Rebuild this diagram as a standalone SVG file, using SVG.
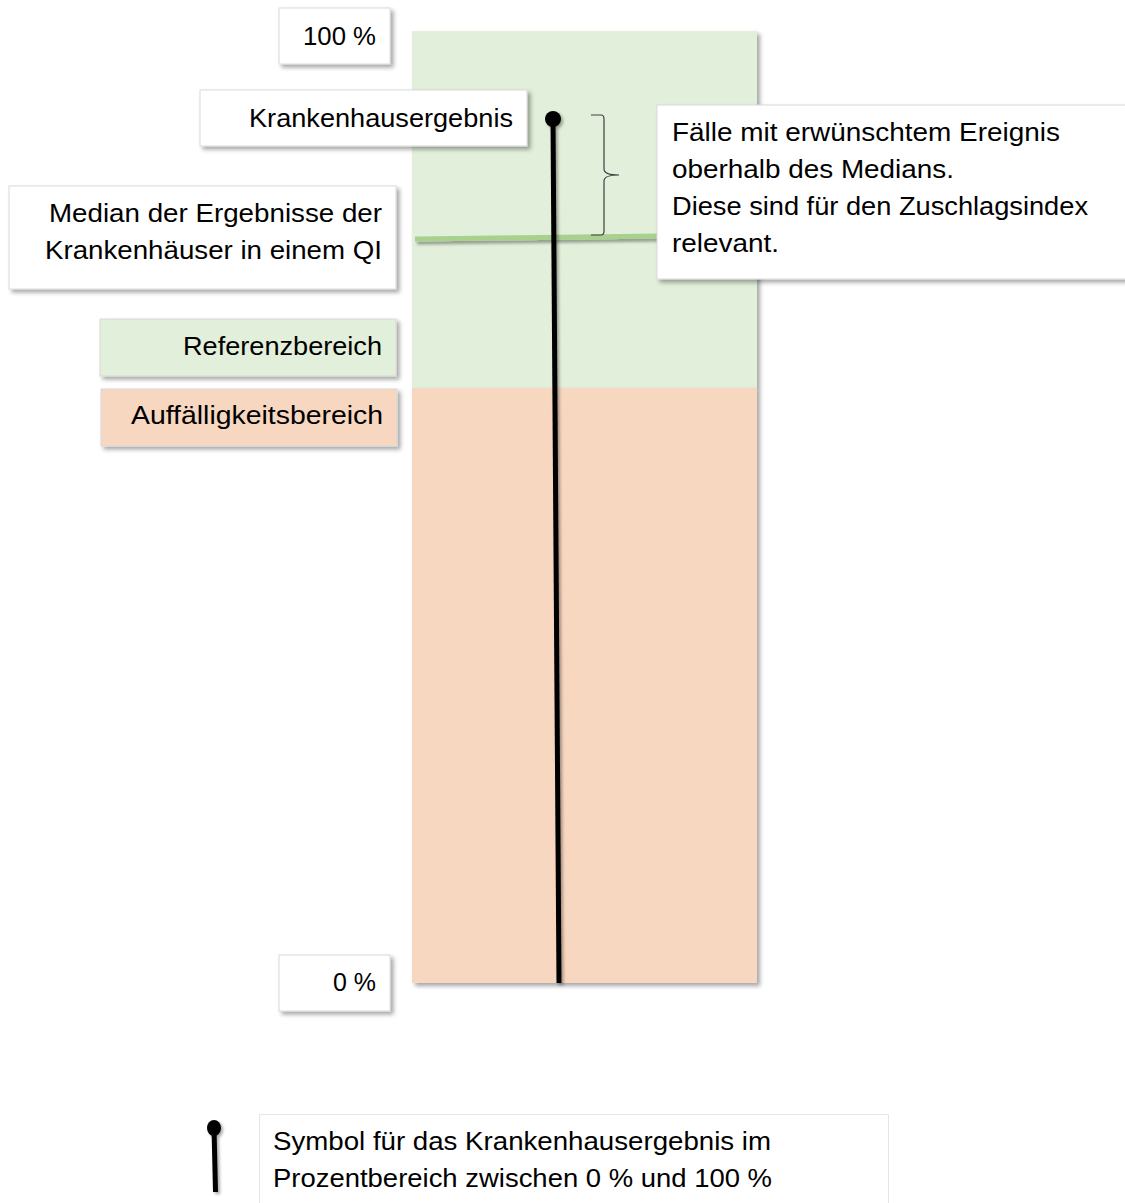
<svg xmlns="http://www.w3.org/2000/svg" width="1125" height="1203" viewBox="0 0 1125 1203">
  <defs>
    <filter id="shadow" x="-10%" y="-10%" width="130%" height="130%">
      <feDropShadow dx="3" dy="3" stdDeviation="2" flood-color="#000" flood-opacity="0.35"/>
    </filter>
    <filter id="pinShadow" x="-100%" y="-10%" width="300%" height="130%">
      <feDropShadow dx="2" dy="2" stdDeviation="1.5" flood-color="#000" flood-opacity="0.35"/>
    </filter>
    <!-- thin horizontal line: filter region in user space so the shadow is not clipped -->
    <filter id="lineShadow" filterUnits="userSpaceOnUse" x="400" y="220" width="280" height="40">
      <feDropShadow dx="2" dy="3" stdDeviation="1.5" flood-color="#000" flood-opacity="0.35"/>
    </filter>
  </defs>
  <style>
    text { font-family: "Liberation Sans", Arial, sans-serif; font-size: 25px; fill: #000; }
    .box { fill: #fff; stroke: #d9d9d9; stroke-width: 1; filter: url(#shadow); }
    .green { fill: #e2efda; }
    .orange { fill: #f8d7c0; }
  </style>

  <rect width="1125" height="1203" fill="#fff"/>

  <!-- percentage scale: reference band above, conspicuous band below -->
  <g id="scale">
    <rect x="412" y="31" width="345" height="357" class="green" filter="url(#shadow)"/>
    <rect x="412" y="388" width="345" height="595" class="orange" filter="url(#shadow)"/>
  </g>

  <g id="connectors">
    <!-- median line -->
    <line x1="415" y1="239" x2="660" y2="236" stroke="#a9d18e" stroke-width="5" filter="url(#lineShadow)"/>
    <!-- brace spanning from result to median -->
    <path d="M591 115 L601 115 Q604 115 604 119 L604 169 Q604 175 619 175 Q604 175 604 181 L604 231 Q604 235 601 235 L591 235" fill="none" stroke="#404040" stroke-width="1.2"/>
    <!-- hospital result pin -->
    <g filter="url(#pinShadow)">
      <line x1="553" y1="119" x2="559" y2="983" stroke="#000" stroke-width="5"/>
      <circle cx="553" cy="119" r="8" fill="#000"/>
    </g>
  </g>

  <g id="label-100">
    <rect x="279" y="8" width="111" height="56" class="box"/>
    <text x="303" y="45" textLength="73" lengthAdjust="spacingAndGlyphs">100 %</text>
  </g>

  <g id="label-result">
    <rect x="200" y="90" width="327" height="56" class="box"/>
    <text x="249" y="127" textLength="264" lengthAdjust="spacingAndGlyphs">Krankenhausergebnis</text>
  </g>

  <g id="label-median">
    <rect x="9" y="186" width="387" height="103" class="box"/>
    <text x="49" y="222" textLength="333" lengthAdjust="spacingAndGlyphs">Median der Ergebnisse der</text>
    <text x="45" y="259" textLength="337" lengthAdjust="spacingAndGlyphs">Krankenhäuser in einem QI</text>
  </g>

  <g id="label-reference">
    <rect x="100" y="319" width="296" height="57" class="green" stroke="#d9d9d9" filter="url(#shadow)"/>
    <text x="183" y="355" textLength="199" lengthAdjust="spacingAndGlyphs">Referenzbereich</text>
  </g>

  <g id="label-conspicuous">
    <rect x="101" y="389" width="296" height="57" class="orange" stroke="#d9d9d9" filter="url(#shadow)"/>
    <text x="131" y="424" textLength="252" lengthAdjust="spacingAndGlyphs">Auffälligkeitsbereich</text>
  </g>

  <g id="label-cases">
    <rect x="657" y="105" width="475" height="174" class="box"/>
    <text x="672" y="141" textLength="388" lengthAdjust="spacingAndGlyphs">Fälle mit erwünschtem Ereignis</text>
    <text x="672" y="178" textLength="282" lengthAdjust="spacingAndGlyphs">oberhalb des Medians.</text>
    <text x="672" y="215" textLength="416" lengthAdjust="spacingAndGlyphs">Diese sind für den Zuschlagsindex</text>
    <text x="672" y="252" textLength="107" lengthAdjust="spacingAndGlyphs">relevant.</text>
  </g>

  <g id="label-0">
    <rect x="279" y="955" width="111" height="56" class="box"/>
    <text x="333" y="991" textLength="43" lengthAdjust="spacingAndGlyphs">0 %</text>
  </g>

  <!-- legend -->
  <g id="legend">
    <g filter="url(#pinShadow)">
      <line x1="214" y1="1128" x2="215.5" y2="1192" stroke="#000" stroke-width="5"/>
      <ellipse cx="214" cy="1128" rx="7" ry="8" fill="#000"/>
    </g>
    <rect x="259.5" y="1114.5" width="629" height="95" fill="#fff" stroke="#e6e6e6" stroke-width="1"/>
    <text x="273" y="1150" textLength="498" lengthAdjust="spacingAndGlyphs">Symbol für das Krankenhausergebnis im</text>
    <text x="273" y="1187" textLength="499" lengthAdjust="spacingAndGlyphs">Prozentbereich zwischen 0 % und 100 %</text>
  </g>
</svg>
